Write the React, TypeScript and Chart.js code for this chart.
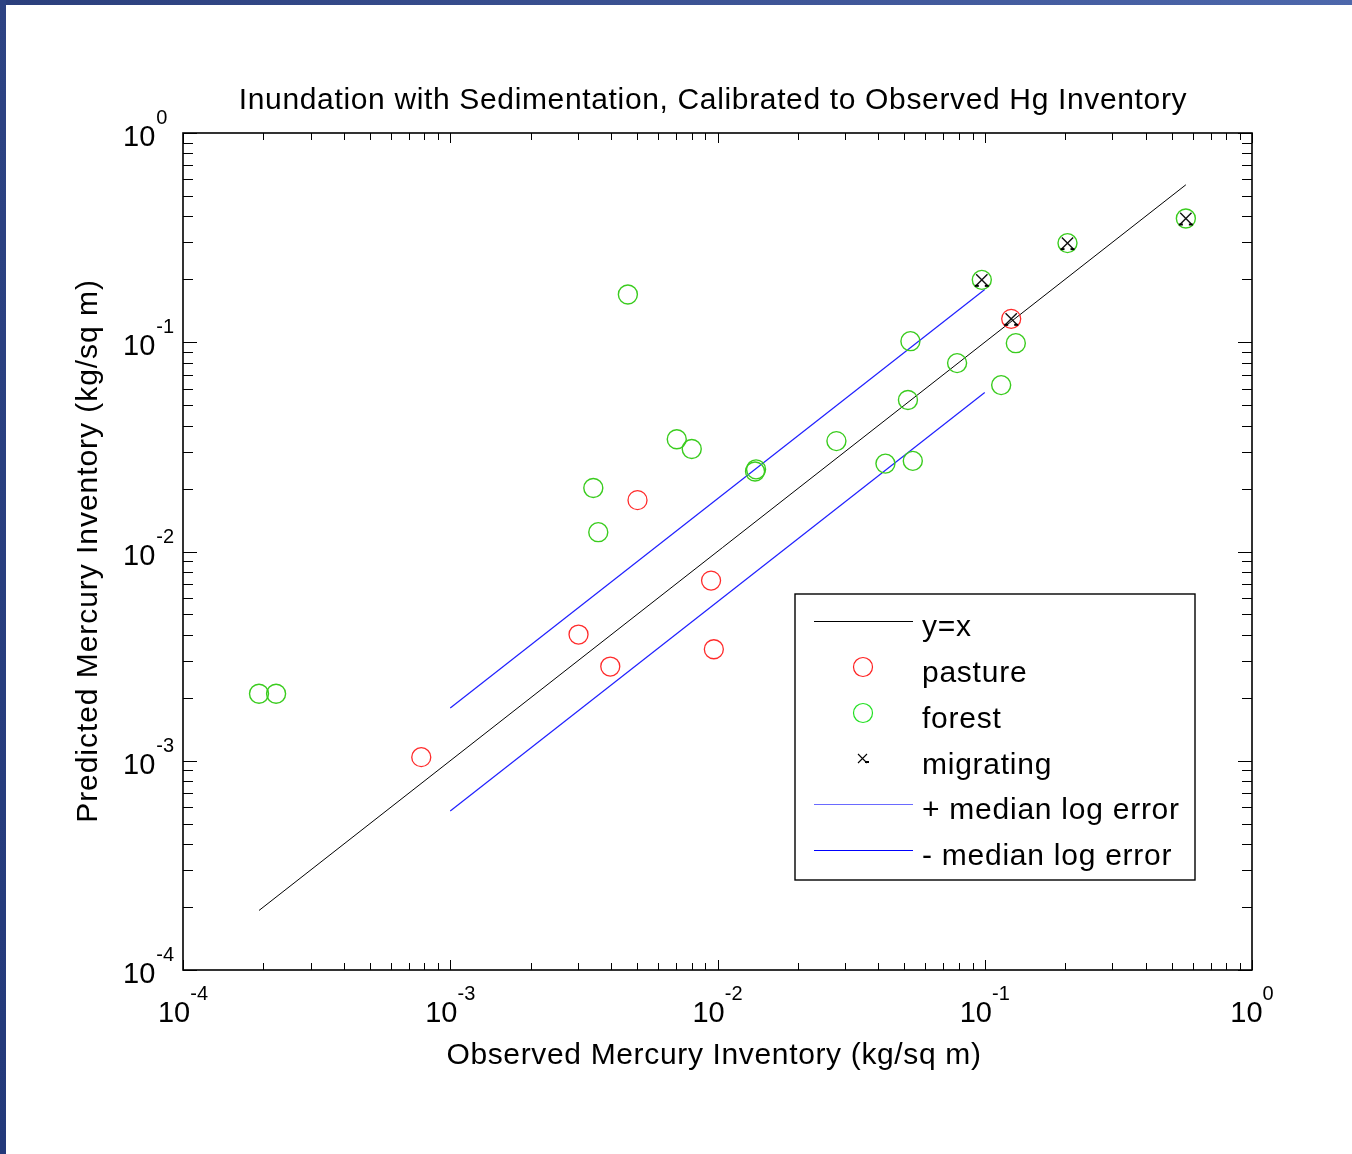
import React, { useEffect, useRef } from 'react';
import { Chart, registerables } from 'chart.js';

Chart.register(...registerables);

// ---- data ----
const pastureX = [7.79e-4, 3.02e-3, 3.97e-3, 5.02e-3, 9.46e-3, 9.69e-3, 0.1256];
const pastureY = [1.04e-3, 4.01e-3, 2.82e-3, 0.0176, 7.26e-3, 3.41e-3, 0.1294];

const forestX = [1.925e-4, 2.23e-4, 4.62e-3, 7.04e-3, 8.01e-3, 0.01382, 0.01394, 3.43e-3, 3.58e-3, 0.0527,
  0.0788, 0.1307, 0.1152, 0.0516, 0.02786, 0.0425, 0.0538, 0.0975, 0.204, 0.5656];
const forestY = [2.09e-3, 2.09e-3, 0.169, 0.0344, 0.0309, 0.0241, 0.0247, 0.0201, 0.01237, 0.1012,
  0.0795, 0.099, 0.0624, 0.053, 0.0337, 0.0263, 0.0271, 0.1987, 0.2977, 0.3903];

const migratingX = [0.0975, 0.204, 0.5656, 0.1256];
const migratingY = [0.1987, 0.2977, 0.3903, 0.1294];

const identityX = [1.925e-4, 0.5656];
const errorX = [1e-3, 0.1];
const plusErrorY = [1.786e-3, 0.1786];
const minusErrorY = [5.75e-4, 0.0575];

const tickExponents = [-4, -3, -2, -1, 0];
const minorMultipliers = [2, 3, 4, 5, 6, 7, 8, 9];

const titleText = 'Inundation with Sedimentation, Calibrated to Observed Hg Inventory';
const xTitle = 'Observed Mercury Inventory (kg/sq m)';
const yTitle = 'Predicted Mercury Inventory (kg/sq m)';
const legendLabels = ['y=x', 'pasture', 'forest', 'migrating', '+ median log error', '- median log error'];

const FONT = '"Liberation Sans", Arial, sans-serif';
const RED = '#ff2a2a';
const GREEN = 'rgb(58,204,30)';
const BLUE = '#1f1fff';

const zip = (xs: number[], ys: number[]) => xs.map((x, i) => ({ x, y: ys[i] }));

const setSpacing = (ctx: any, v: string) => {
  if ('letterSpacing' in ctx) ctx.letterSpacing = v;
};

const decorPlugin = {
  id: 'matlabDecor',
  afterDatasetsDraw(chart: any) {
    // small dash artefacts of the migrating markers
    const ctx: CanvasRenderingContext2D = chart.ctx;
    const meta = chart.getDatasetMeta(3);
    ctx.save();
    ctx.fillStyle = '#000';
    meta.data.forEach((pt: any) => {
      ctx.fillRect(pt.x - 7, pt.y + 5, 4, 2);
      ctx.fillRect(pt.x + 3, pt.y + 5, 4, 2);
    });
    ctx.restore();
  },
  afterDraw(chart: any) {
    const ctx: CanvasRenderingContext2D = chart.ctx;
    const xs = chart.scales.x;
    const ys = chart.scales.y;
    const { left, right, top, bottom } = chart.chartArea;
    ctx.save();

    // ticks (inward, all four sides)
    ctx.strokeStyle = '#000';
    ctx.lineWidth = 1;
    ctx.beginPath();
    tickExponents.forEach((e) => {
      const mults = e < 0 ? [1, ...minorMultipliers] : [1];
      mults.forEach((m) => {
        const v = m * Math.pow(10, e);
        const major = m === 1;
        const px = Math.round(xs.getPixelForValue(v)) + 0.5;
        const py = Math.round(ys.getPixelForValue(v)) + 0.5;
        const lx = major ? 10 : 7;
        const ly = major ? 14 : 10;
        ctx.moveTo(px, bottom); ctx.lineTo(px, bottom - lx);
        ctx.moveTo(px, top); ctx.lineTo(px, top + lx);
        ctx.moveTo(left, py); ctx.lineTo(left + ly, py);
        ctx.moveTo(right, py); ctx.lineTo(right - ly, py);
      });
    });
    ctx.stroke();

    // axes box
    ctx.lineWidth = 1.6;
    ctx.strokeRect(left, top, right - left, bottom - top);

    // tick labels
    ctx.fillStyle = '#000';
    ctx.textBaseline = 'alphabetic';
    setSpacing(ctx, '0px');
    tickExponents.forEach((e) => {
      const v = Math.pow(10, e);
      const exp = String(e);
      const px = xs.getPixelForValue(v);
      ctx.font = `29px ${FONT}`;
      const w10 = ctx.measureText('10').width;
      ctx.font = `20px ${FONT}`;
      const wE = ctx.measureText(exp).width;
      const x0 = px - (w10 + wE) / 2;
      ctx.textAlign = 'left';
      ctx.font = `29px ${FONT}`;
      ctx.fillText('10', x0, bottom + 52);
      ctx.font = `20px ${FONT}`;
      ctx.fillText(exp, x0 + w10, bottom + 30);
      const py = ys.getPixelForValue(v);
      ctx.font = `29px ${FONT}`;
      ctx.fillText('10', 123, py + 13);
      ctx.font = `20px ${FONT}`;
      ctx.fillText(exp, 123 + w10 + 1, py - 9);
    });

    // title + axis titles
    ctx.font = `30px ${FONT}`;
    ctx.textAlign = 'left';
    setSpacing(ctx, '0.65px');
    const drawCentered = (t: string, cx: number, y: number) => {
      const w = ctx.measureText(t).width;
      ctx.fillText(t, cx - w / 2, y);
    };
    drawCentered(titleText, 713, 109);
    drawCentered(xTitle, 714, 1064);
    ctx.save();
    ctx.translate(97, 551);
    ctx.rotate(-Math.PI / 2);
    setSpacing(ctx, '0.95px');
    drawCentered(yTitle, 0, 0);
    ctx.restore();

    // legend
    const lx0 = 795, ly0 = 594, lx1 = 1195, ly1 = 880;
    ctx.fillStyle = '#fff';
    ctx.fillRect(lx0, ly0, lx1 - lx0, ly1 - ly0);
    ctx.strokeStyle = '#000';
    ctx.lineWidth = 1.4;
    ctx.strokeRect(lx0, ly0, lx1 - lx0, ly1 - ly0);
    const rows = [621, 667, 713, 759, 804, 850];
    const symX0 = 814, symX1 = 913, symC = 863, textX = 922;
    setSpacing(ctx, '0.75px');
    rows.forEach((ry, i) => {
      ctx.lineWidth = 1;
      if (i === 0 || i === 4 || i === 5) {
        ctx.strokeStyle = i === 0 ? '#000' : i === 4 ? '#6a6aff' : '#0000ff';
        ctx.beginPath();
        ctx.moveTo(symX0, ry + 0.5);
        ctx.lineTo(symX1, ry + 0.5);
        ctx.stroke();
      } else if (i === 1 || i === 2) {
        ctx.strokeStyle = i === 1 ? '#ff2020' : '#22e022';
        ctx.lineWidth = 1.2;
        ctx.beginPath();
        ctx.arc(symC, ry, 9.5, 0, Math.PI * 2);
        ctx.stroke();
      } else {
        ctx.strokeStyle = '#000';
        ctx.lineWidth = 1.1;
        ctx.beginPath();
        ctx.moveTo(symC - 5, ry - 5); ctx.lineTo(symC + 4, ry + 4);
        ctx.moveTo(symC + 4, ry - 5); ctx.lineTo(symC - 5, ry + 4);
        ctx.stroke();
        ctx.fillStyle = '#000';
        ctx.fillRect(symC + 2, ry + 2, 4, 2);
      }
      ctx.fillStyle = '#000';
      ctx.font = `30px ${FONT}`;
      ctx.textAlign = 'left';
      ctx.textBaseline = 'alphabetic';
      ctx.fillText(legendLabels[i], textX, ry + 15);
    });

    ctx.restore();
  },
};

export default function App() {
  const canvasRef = useRef<HTMLCanvasElement | null>(null);

  useEffect(() => {
    const canvas = canvasRef.current;
    if (!canvas) return;
    const chart = new Chart(canvas, {
      type: 'scatter',
      data: {
        datasets: [
          {
            label: legendLabels[0],
            data: zip(identityX, identityX),
            showLine: true,
            borderColor: '#000',
            borderWidth: 1,
            pointRadius: 0,
            order: 5,
          },
          {
            label: legendLabels[1],
            data: zip(pastureX, pastureY),
            pointStyle: 'circle',
            pointRadius: 9.5,
            borderColor: RED,
            backgroundColor: 'rgba(0,0,0,0)',
            borderWidth: 1.3,
            order: 3,
          },
          {
            label: legendLabels[2],
            data: zip(forestX, forestY),
            pointStyle: 'circle',
            pointRadius: 9.5,
            borderColor: GREEN,
            backgroundColor: 'rgba(0,0,0,0)',
            borderWidth: 1.4,
            order: 2,
          },
          {
            label: legendLabels[3],
            data: zip(migratingX, migratingY),
            pointStyle: 'crossRot',
            pointRadius: 8,
            borderColor: '#111',
            borderWidth: 1.4,
            order: 0,
          },
          {
            label: legendLabels[4],
            data: zip(errorX, plusErrorY),
            showLine: true,
            borderColor: BLUE,
            borderWidth: 1.2,
            pointRadius: 0,
            order: 4,
          },
          {
            label: legendLabels[5],
            data: zip(errorX, minusErrorY),
            showLine: true,
            borderColor: BLUE,
            borderWidth: 1.2,
            pointRadius: 0,
            order: 4,
          },
        ],
      },
      options: {
        animation: false,
        responsive: false,
        devicePixelRatio: 1,
        layout: { padding: { left: 183, top: 133, right: 100, bottom: 184 } },
        plugins: {
          legend: { display: false },
          title: { display: false },
          tooltip: { enabled: false },
        },
        events: [],
        scales: {
          x: { type: 'logarithmic', min: 1e-4, max: 1, display: false },
          y: { type: 'logarithmic', min: 1e-4, max: 1, display: false },
        },
      },
      plugins: [decorPlugin],
    });
    return () => chart.destroy();
  }, []);

  return (
    <div style={{ position: 'absolute', left: 0, top: 0, width: 1352, height: 1154, background: '#fff', overflow: 'hidden' }}>
      <canvas ref={canvasRef} width={1352} height={1154} style={{ position: 'absolute', left: 0, top: 0 }} />
      <div style={{ position: 'absolute', left: 0, top: 0, width: 1352, height: 5, background: 'linear-gradient(to right, #2b3f7c, #3f5698 60%, #4d67ab)' }} />
      <div style={{ position: 'absolute', left: 0, top: 0, width: 6, height: 1154, background: 'linear-gradient(to bottom, #2d4383, #23397a)' }} />
    </div>
  );
}
